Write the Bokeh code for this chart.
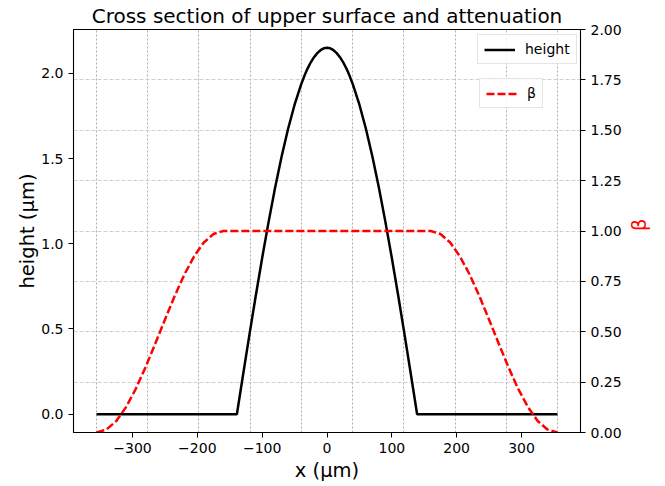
import math
from bokeh.plotting import figure
from bokeh.models import (Range1d, LinearAxis, FixedTicker, PrintfTickFormatter,
                          Legend, LegendItem, Grid)
from bokeh.embed import file_html
from bokeh.resources import INLINE

# ---- data ----
h_x = [-355.5, -139, -130, -120, -110, -100, -90, -80, -70, -60, -50, -40, -35, -30, -25, -20, -15, -10, -5,
       0, 5, 10, 15, 20, 25, 30, 35, 40, 50, 60, 70, 80, 90, 100, 110, 120, 130, 139, 355.5]
h_y = [0.0, 0.0, 0.218, 0.458, 0.692, 0.917, 1.130, 1.330, 1.512, 1.675, 1.816, 1.934, 1.984, 2.028, 2.065,
       2.095, 2.119, 2.136, 2.147,
       2.15, 2.147, 2.136, 2.119, 2.095, 2.065, 2.028, 1.984, 1.934, 1.816, 1.675, 1.512, 1.330, 1.130,
       0.917, 0.692, 0.458, 0.218, 0.0, 0.0]

b_x = [-355.5, -340, -325, -310, -295, -280, -265, -250, -235, -220, -205, -190, -175, -160,
       160, 175, 190, 205, 220, 235, 250, 265, 280, 295, 310, 325, 340, 355.5]
b_y = [0.0, 0.015, 0.057, 0.126, 0.216, 0.323, 0.440, 0.560, 0.677, 0.784, 0.874, 0.943, 0.985, 1.0,
       1.0, 0.985, 0.943, 0.874, 0.784, 0.677, 0.560, 0.440, 0.323, 0.216, 0.126, 0.057, 0.015, 0.0]

x_ticks = [-300, -200, -100, 0, 100, 200, 300]
x_tick_labels = ["\u2212300", "\u2212200", "\u2212100", "0", "100", "200", "300"]
h_ticks = [0.0, 0.5, 1.0, 1.5, 2.0]
b_ticks = [0.0, 0.25, 0.5, 0.75, 1.0, 1.25, 1.5, 1.75, 2.0]
x_grid_ticks = [-355.5, -276.5, -197.5, -118.5, -39.5, 39.5, 118.5, 197.5, 276.5, 355.5]

FONT = "DejaVu Sans"

p = figure(width=665, height=486, output_backend="svg", toolbar_location=None,
           x_range=Range1d(-391, 391), y_range=Range1d(-0.1075, 2.2575),
           title="Cross section of upper surface and attenuation")
p.min_border_left = 73
p.min_border_right = 80
p.min_border_top = 29
p.min_border_bottom = 54
p.background_fill_color = "white"
p.border_fill_color = "white"
p.outline_line_color = "black"
p.outline_line_width = 1.1

p.title.text_font = FONT
p.title.text_font_size = "20px"
p.title.text_font_style = "normal"
p.title.text_color = "black"
p.title.align = "center"
p.title.standoff = 3

p.extra_y_ranges = {"beta": Range1d(0, 2)}

# axes
xa = p.xaxis[0]
xa.ticker = FixedTicker(ticks=x_ticks)
xa.major_label_overrides = {t: l for t, l in zip(x_ticks, x_tick_labels)}
xa.axis_label = "x (\u00b5m)"

ya = p.yaxis[0]
ya.ticker = FixedTicker(ticks=h_ticks)
ya.formatter = PrintfTickFormatter(format="%.1f")
ya.axis_label = "height (\u00b5m)"

ra = LinearAxis(y_range_name="beta", ticker=FixedTicker(ticks=b_ticks),
                formatter=PrintfTickFormatter(format="%.2f"), axis_label="\u03b2")
p.add_layout(ra, "right")

for ax in (xa, ya, ra):
    ax.minor_tick_line_color = None
    ax.major_tick_out = 5
    ax.major_tick_in = 0
    ax.axis_line_color = "black"
    ax.major_tick_line_color = "black"
    ax.major_label_text_font = FONT
    ax.major_label_text_font_size = "14px"
    ax.major_label_text_color = "black"
    ax.axis_label_text_font = FONT
    ax.axis_label_text_font_size = "19.5px"
    ax.axis_label_text_font_style = "normal"
    ax.axis_label_text_color = "black"
    ax.major_label_standoff = 5
ya.axis_label_standoff = -1
xa.axis_label_standoff = 3
ra.axis_label_text_color = "red"
ra.axis_label_standoff = 15
if "axis_label_orientation" in ra.properties():
    ra.axis_label_orientation = math.pi / 2

# grids
p.xgrid.ticker = FixedTicker(ticks=x_grid_ticks)
p.xgrid.grid_line_color = "#999999"
p.xgrid.grid_line_dash = "2 2"
p.xgrid.grid_line_width = 0.8
p.ygrid.visible = False
bg = Grid(dimension=1, ticker=FixedTicker(ticks=b_ticks), y_range_name="beta",
          grid_line_color="#cccccc", grid_line_dash="4 2", grid_line_width=0.9)
p.add_layout(bg)

# lines
r_h = p.line(h_x, h_y, line_color="black", line_width=2.5)
r_b = p.line(b_x, b_y, line_color="red", line_width=2.5, line_dash="8 3",
             y_range_name="beta")

def make_legend(label, r, loc, lw):
    lg = Legend(items=[LegendItem(label=label, renderers=[r])], location=loc)
    lg.label_text_font = FONT
    lg.label_text_font_size = "14px"
    lg.label_text_color = "black"
    lg.border_line_color = "#cccccc"
    lg.border_line_width = 1
    lg.background_fill_alpha = 0.85
    lg.padding = 6
    lg.margin = 0
    lg.spacing = 0
    lg.glyph_width = 31
    lg.glyph_height = 15
    lg.label_height = 15
    lg.label_width = lw
    lg.label_standoff = 10
    return lg

p.add_layout(make_legend("height", r_h, (404, 368), 20), "center")
p.add_layout(make_legend("\u03b2", r_b, (406, 324), 8), "center")

open("out.html", "w").write(file_html(p, INLINE))
